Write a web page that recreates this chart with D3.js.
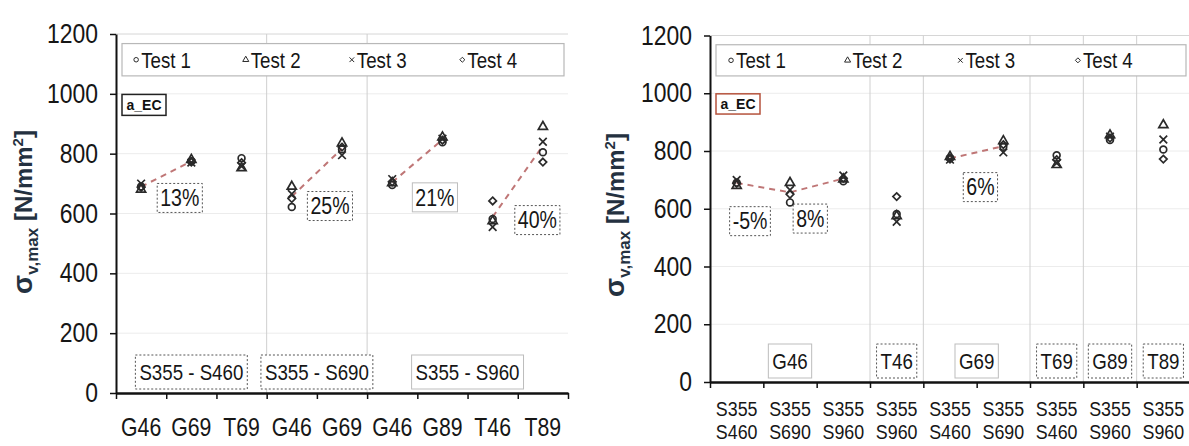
<!DOCTYPE html>
<html>
<head>
<meta charset="utf-8">
<script src="https://cdn.jsdelivr.net/npm/d3@7"></script>
<style>
  body { margin: 0; background: #fff; }
  svg { display: block; }
</style>
</head>
<body>
<div id="chart"></div>
<script>
// specimens (joint steel + weld type) and the four test results, N/mm2
const specimens = ["S460-G46", "S460-G69", "S460-T69", "S690-G46", "S690-G69",
                   "S960-G46", "S960-G89", "S960-T46", "S960-T89"];
const test1 = [690, 775, 785, 622, 815, 695, 838, 582, 805];
const test2 = [680, 780, 752, 690, 835, 702, 855, 575, 890];
const test3 = [700, 770, 758, 665, 795, 715, 850, 555, 840];
const test4 = [688, 772, 770, 650, 822, 706, 845, 642, 772];
const testNames = ["Test 1", "Test 2", "Test 3", "Test 4"];

// left panel: grouped by steel combination
const leftKeys = ["S460-G46", "S460-G69", "S460-T69", "S690-G46", "S690-G69",
                  "S960-G46", "S960-G89", "S960-T46", "S960-T89"];
const leftLabels = ["G46", "G69", "T69", "G46", "G69", "G46", "G89", "T46", "T89"];
const leftGroups = ["S355 - S460", "S355 - S690", "S355 - S960"];
const leftGroupSpan = [[0, 2], [3, 4], [5, 8]];
const leftTrends = [[0, 1], [3, 4], [5, 6], [7, 8]];
const leftPct = ["13%", "25%", "21%", "40%"];

// right panel: grouped by weld type
const rightKeys = ["S460-G46", "S690-G46", "S960-G46", "S960-T46", "S460-G69",
                   "S690-G69", "S460-T69", "S960-G89", "S960-T89"];
const rightLabels = [["S355", "S460"], ["S355", "S690"], ["S355", "S960"], ["S355", "S960"],
                     ["S355", "S460"], ["S355", "S690"], ["S355", "S460"], ["S355", "S960"],
                     ["S355", "S960"]];
const rightGroups = ["G46", "T46", "G69", "T69", "G89", "T89"];
const rightGroupSpan = [[0, 2], [3, 3], [4, 5], [6, 6], [7, 7], [8, 8]];
const rightTrends = [[0, 1, 2], [4, 5]];
const rightPct = ["-5%", "8%", "6%"];

const yTicks = [0, 200, 400, 600, 800, 1000, 1200];

const FONT = "'Liberation Sans',Arial,sans-serif";
const SX = 0.85;   // the original uses a narrow face, squeeze the regular one
const INK = "#2a2a2a";

const svg = d3.select("#chart").append("svg").attr("width", 1189).attr("height", 446);
svg.append("rect").attr("width", 1189).attr("height", 446).attr("fill", "#fff");

const symbols = [d3.symbolCircle, d3.symbolTriangle, d3.symbolTimes || d3.symbolX,
                 d3.symbolDiamond2 || d3.symbolDiamond];

function values(key){
    const i = specimens.indexOf(key);
    return [test1[i], test2[i], test3[i], test4[i]];
}

// narrow text: a group placed at (x,y) and squeezed horizontally
function narrow(parent, x, y, s, size, anchor){
    const wrap = parent.append("g").attr("transform", `translate(${x},${y}) scale(${SX},1)`);
    const t = wrap.append("text").attr("text-anchor", anchor || "middle")
        .attr("font-family", FONT).attr("font-size", size).attr("fill", "#161616").text(s);
    return {wrap, t};
}

function drawPanel(cfg){
    const g = svg.append("g");
    const n = cfg.keys.length;
    const x = d3.scaleBand().domain(d3.range(n)).range([cfg.x0, cfg.x1]).padding(0);
    const xi = d3.scaleLinear().domain([0, n]).range([cfg.x0, cfg.x1]);
    const y = d3.scaleLinear().domain([0, 1200]).range([cfg.y0, cfg.y1]);
    const cx = i => x(i) + x.bandwidth() / 2;

    // faint grid
    g.selectAll(".grid").data(yTicks.slice(1)).join("line")
        .attr("x1", cfg.x0).attr("x2", cfg.x1)
        .attr("y1", d => y(d)).attr("y2", d => y(d))
        .attr("stroke", d => d == 1200 ? "#d6d6d6" : "#ececec").attr("stroke-width", 1);

    g.selectAll(".sep").data(cfg.separators).join("line")
        .attr("x1", d => xi(d)).attr("x2", d => xi(d))
        .attr("y1", y(1200)).attr("y2", y(0))
        .attr("stroke", "#cfcfcf").attr("stroke-width", 1);

    // legend
    const lx0 = cfg.x0 + 6, lx1 = cfg.x1 - 4;
    const leg = g.append("g");
    leg.append("rect").attr("x", lx0).attr("y", y(1168))
        .attr("width", lx1 - lx0).attr("height", y(1060) - y(1168))
        .attr("fill", "#fff").attr("stroke", "#b8b8b8").attr("stroke-width", 1.2);
    const legPos = [0.032, 0.28, 0.52, 0.77];
    testNames.forEach((t, k) => {
        const mx = lx0 + legPos[k] * (lx1 - lx0), my = y(1114);
        leg.append("path").attr("transform", `translate(${mx},${my})`)
            .attr("d", d3.symbol(symbols[k], 16)())
            .attr("fill", "none").attr("stroke", INK).attr("stroke-width", 1);
        narrow(leg, mx + 5, my + 8, t, 22, "start");
    });

    // a_EC tag
    g.append("rect").attr("x", cfg.x0 + 6).attr("y", y(998))
        .attr("width", 44).attr("height", y(928) - y(998))
        .attr("fill", "#fff").attr("stroke", cfg.tagColor).attr("stroke-width", 1.5);
    g.append("text").attr("x", cfg.x0 + 28).attr("y", (y(998) + y(928)) / 2).attr("dy", "0.36em")
        .attr("text-anchor", "middle").attr("font-family", FONT)
        .attr("font-weight", "bold").attr("font-size", 14).attr("fill", "#111").text("a_EC");

    // boxed labels
    function boxLabel(px, py, s, size, solid, padX, padY){
        const {t} = narrow(g, px, py + size * 0.36, s, size);
        const bb = t.node().getBBox();
        const w = bb.width * SX;
        g.insert("rect", () => t.node().parentNode)
            .attr("x", px - w / 2 - padX).attr("y", py - size * 0.5 - padY)
            .attr("width", w + 2 * padX).attr("height", size + 2 * padY)
            .attr("fill", "#fff")
            .attr("stroke", solid ? "#bdbdbd" : "#555")
            .attr("stroke-dasharray", solid ? null : "2,2")
            .attr("stroke-width", 1);
    }

    cfg.groups.forEach((name, k) => {
        const [a, b] = cfg.groupSpan[k];
        boxLabel((xi(a) + xi(b + 1)) / 2, cfg.y0 - 21, name, 22, cfg.groupSolid[k], 4, 6);
    });

    // mean trend lines
    const means = cfg.keys.map(k => d3.mean(values(k)));
    const line = d3.line().x(i => cx(i)).y(i => y(means[i]));
    g.selectAll(".trend").data(cfg.trends).join("path")
        .attr("d", line).attr("fill", "none")
        .attr("stroke", "#bf7676").attr("stroke-width", 2).attr("stroke-dasharray", "6,5");

    cfg.pct.forEach((p, k) => {
        const [fi, v] = cfg.pctPos[k];
        boxLabel(x(0) + x.bandwidth() * (fi + 0.5), y(v), p, 23, cfg.pctSolid[k], 3, 3);
    });

    // test points
    cfg.keys.forEach((key, i) => {
        values(key).forEach((v, k) => {
            g.append("path").attr("transform", `translate(${cx(i)},${y(v)})`)
                .attr("d", d3.symbol(symbols[k], k == 2 ? 40 : 36)())
                .attr("fill", "none").attr("stroke", INK).attr("stroke-width", 1.7);
        });
    });

    // axes
    const ya = g.append("g").attr("transform", `translate(${cfg.x0},0)`)
        .call(d3.axisLeft(y).tickValues(yTicks).tickFormat(d3.format("d"))
            .tickSize(6).tickPadding(12).tickSizeOuter(0));
    ya.select(".domain").attr("stroke", "#111").attr("stroke-width", 2);
    ya.selectAll(".tick line").attr("stroke", "#111").attr("stroke-width", 1.5);
    ya.selectAll("text").attr("font-family", FONT).attr("font-size", 27).attr("fill", "#161616")
        .attr("transform", `scale(${SX},1)`).attr("x", -18 / SX);

    const xa = g.append("g").attr("transform", `translate(0,${cfg.y0})`)
        .call(d3.axisBottom(xi).tickValues(d3.range(n + 1)).tickFormat("").tickSize(6).tickSizeOuter(0));
    xa.select(".domain").attr("stroke", "#111").attr("stroke-width", 2.5);
    xa.selectAll(".tick line").attr("stroke", "#111").attr("stroke-width", 1.5);

    cfg.labels.forEach((lab, i) => {
        const lines = Array.isArray(lab) ? lab : [lab];
        lines.forEach((s, j) => narrow(g, cx(i), cfg.labelY + j * cfg.lineGap, s, cfg.labelFont));
    });

    // axis title
    const tt = g.append("text")
        .attr("transform", `translate(${cfg.titleX},${cfg.titleY}) rotate(-90)`)
        .attr("text-anchor", "middle").attr("font-family", FONT)
        .attr("font-weight", "bold").attr("font-size", 24).attr("fill", "#243140");
    tt.append("tspan").attr("font-size", 28).text("σ");
    tt.append("tspan").attr("font-size", 17).attr("dy", 6).text("v,max");
    tt.append("tspan").attr("dy", -6).text(" [N/mm");
    tt.append("tspan").attr("font-size", 15).attr("dy", -9).text("2");
    tt.append("tspan").attr("dy", 9).text("]");
}

drawPanel({
    keys: leftKeys, labels: leftLabels,
    x0: 116, x1: 568, y0: 393, y1: 34,
    separators: [3, 5],
    groups: leftGroups, groupSpan: leftGroupSpan, groupSolid: [false, false, true],
    trends: leftTrends, pct: leftPct,
    pctPos: [[0.77, 652], [3.76, 625], [5.85, 654], [7.89, 578]],
    pctSolid: [false, false, true, false],
    tagColor: "#222",
    labelY: 436, labelFont: 25, lineGap: 24,
    titleX: 32, titleY: 212
});

drawPanel({
    keys: rightKeys, labels: rightLabels,
    x0: 710, x1: 1190, y0: 382, y1: 35.5,
    separators: [3, 4, 6, 7, 8],
    groups: rightGroups, groupSpan: rightGroupSpan,
    groupSolid: [true, false, true, false, false, false],
    trends: rightTrends, pct: rightPct,
    pctPos: [[0.25, 557], [1.38, 566], [4.57, 675]],
    pctSolid: [false, false, false],
    tagColor: "#b5523c",
    labelY: 416, labelFont: 21, lineGap: 23,
    titleX: 624, titleY: 215
});
</script>
</body>
</html>
